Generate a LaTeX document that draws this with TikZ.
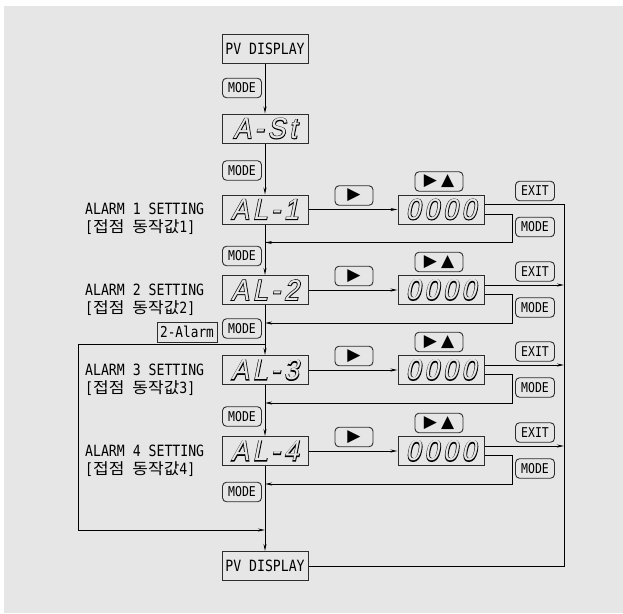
\documentclass[tikz,border=0pt]{standalone}
\usepackage{fontspec}
\setmainfont{DejaVu Sans Mono}[FakeStretch=0.85]
\newfontfamily\kofont{Noto Sans CJK KR}[FakeStretch=1.1]
\newfontfamily\segfont{Liberation Sans}[LetterSpace=14, FakeSlant=0.2, FakeStretch=0.9]
\newfontfamily\seginkfont{Liberation Sans}[LetterSpace=14, FakeSlant=0.2, FakeStretch=0.9, FakeBold=5]
\newfontfamily\symfont{DejaVu Sans}
\usetikzlibrary{arrows.meta,positioning}
\definecolor{panelgray}{RGB}{230,230,230}
\definecolor{inkgray}{RGB}{45,45,45}
\newcommand{\colx}{265}
\newcommand{\rgtx}{564}
% hollow segment lettering: heavy ink copy under a panel-coloured copy
\newcommand{\segdisp}[1]{\fontsize{29}{29}\selectfont\rlap{\seginkfont\color{black}#1}{\segfont\color{panelgray}#1}}
% row number / y of display / y of MODE key under it
\def\alarmrows{
  1/209.5/256,
  2/290/328.5,
  3/370/416.5,
  4/451/492
}
\tikzset{
  stepbox/.style  = {draw=inkgray, line width=1pt, minimum width=86pt, minimum height=29pt, inner sep=0pt},
  btn/.style      = {draw=inkgray, line width=0.9pt, rounded corners=4pt, minimum width=39pt, minimum height=19.5pt, inner sep=0pt, font=\fontsize{13.5}{14}\selectfont},
  symbtn/.style   = {btn, font=\symfont\fontsize{17}{17}\selectfont},
  flow/.style     = {draw=black, line width=1pt},
  arr/.style      = {flow, -{Stealth[length=7pt,width=3pt]}},
  rowlabel/.style = {align=left, anchor=west, inner sep=0pt, font=\fontsize{15.5}{18}\selectfont}
}
\begin{document}
\begin{tikzpicture}[x=1pt,y=-1pt]
  % white page with grey panel
  \useasboundingbox (0,0) rectangle (623,613);
  \fill[white] (0,0) rectangle (623,613);
  \fill[panelgray] (4,6) rectangle (623,613);
  % main column
  \node[stepbox, font=\fontsize{15.5}{16}\selectfont] (pvtop) at (\colx,48.5) {PV DISPLAY};
  \node[btn] (m0) at (242,88) {MODE};
  \node[stepbox] (ast) at (\colx,128.5) {\segdisp{A-St}};
  \node[btn] (m1) at (242,170.5) {MODE};
  \node[stepbox, font=\fontsize{15.5}{16}\selectfont] (pvbot) at (\colx,566) {PV DISPLAY};
  \coordinate (rbot) at (\rgtx,566);
  \foreach \i/\y/\my in \alarmrows {
    \node[stepbox] (al\i) at (\colx,\y) {\segdisp{AL-\i}};
    \node[btn] (ma\i) at (242,\my) {MODE};
    \node[rowlabel] (lab\i) at (85,\y+9.5) {ALARM \i\ SETTING\\{[}{\kofont 접점} {\kofont 동작값}\i{]}};
    % edit keys and value display
    \node[symbtn, minimum width=38pt] (rt\i) at (354,\y-14) {▶};
    \node[symbtn, minimum width=48pt] (ud\i) at (439,\y-28) {▶\hspace{4pt}▲};
    \node[stepbox] (val\i) at (441,\y) {\segdisp{0000}};
    \node[btn] (ex\i) at (535,\y-18.5) {EXIT};
    \node[btn] (mr\i) at (535,\y+17.5) {MODE};
    \coordinate (ret\i) at (\colx,\y+33);
    \path ([yshift=5pt]val\i.east) coordinate (xo\i);
    \draw[arr] (al\i) -- (val\i);
    \draw[arr] ([yshift=-4.8pt]val\i.east) -- ++(28,0) |- (ret\i);
  }
  \draw[arr] (pvtop) -- (ast);
  \draw[arr] (ast) -- (al1);
  \draw[arr] (al1) -- (al2);
  \draw[arr] (al2) -- (al3);
  \draw[arr] (al3) -- (al4);
  \draw[arr] (al4) -- (pvbot);
  % EXIT path back to PV display
  \draw[flow] (xo1) -| (rbot) -- (pvbot);
  \foreach \i in {2,3,4} {
    \draw[arr] (xo\i) -- (xo\i -| rbot);
  }
  % 2-alarm bypass
  \node[draw=inkgray, line width=0.9pt, minimum width=60pt, minimum height=20pt, inner sep=1pt, font=\fontsize{15}{15}\selectfont] (twoalarm) at (187,332) {2-Alarm};
  \coordinate (skip) at (\colx,344);
  \coordinate (join) at (\colx,530);
  \draw[arr] (skip) -- ++(-187,0) |- (join);
\end{tikzpicture}
\end{document}
